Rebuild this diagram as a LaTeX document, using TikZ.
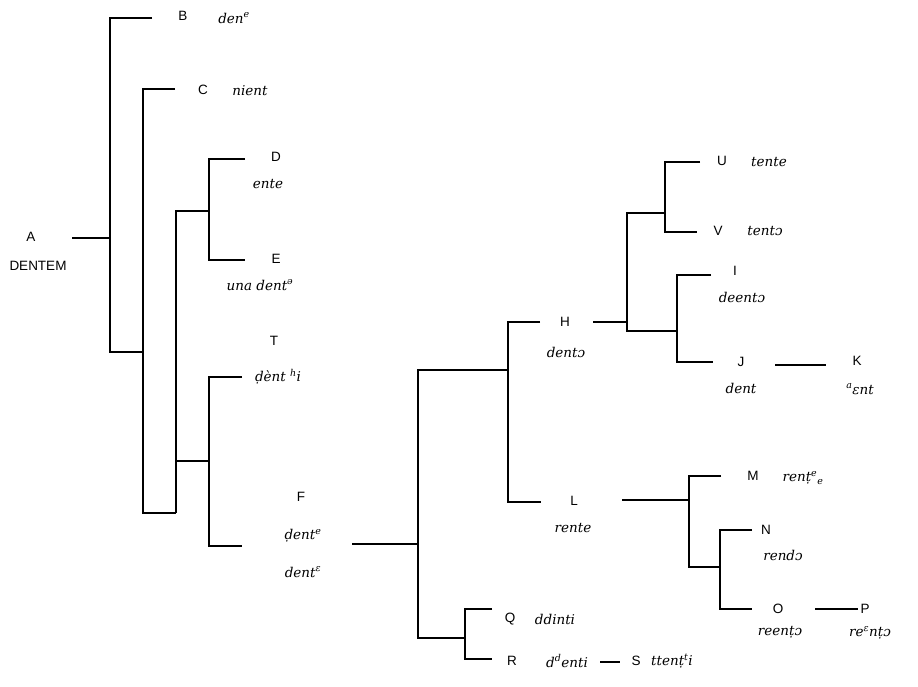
\documentclass[tikz,border=0pt]{standalone}
\usepackage{fontspec}
\setmainfont{Liberation Sans}
\newfontfamily\phon{DejaVu Serif}
\begin{document}
\begin{tikzpicture}[x=1pt,y=-1pt,
  lab/.style={font=\fontsize{13.5}{15}\selectfont, inner sep=0pt},
  ph/.style={font=\phon\itshape\fontsize{13.5}{15}\selectfont, inner sep=0pt},
  br/.style={line width=1.1pt}]
\useasboundingbox (0,0) rectangle (918,686);
% labels
\node[lab] (A) at (31,237) {A};
\node[lab] (Ad) at (38,266) {DENTEM};
\node[lab] (B) at (183,16) {B};
\node[ph] (Bp) at (234,18) {den\textsuperscript{e}};
\node[lab] (C) at (203,90) {C};
\node[ph] (Cp) at (250,91) {nient};
\node[lab] (D) at (276,157) {D};
\node[ph] (Dp) at (268,184) {ente};
\node[lab] (E) at (276,259) {E};
\node[ph] (Ep) at (260,285) {una dent\textsuperscript{ə}};
\node[lab] (T) at (274,341) {T};
\node[ph] (Tp) at (278,377) {ḍènt \textsuperscript{h}i};
\node[lab] (F) at (301,497) {F};
\node[ph] (Fp1) at (303,536) {ḍent\textsuperscript{e}};
\node[ph] (Fp2) at (303,572) {dent\textsuperscript{ɛ}};
\node[lab] (H) at (565,322) {H};
\node[ph] (Hp) at (566,352) {dentɔ};
\node[lab] (U) at (722,161) {U};
\node[ph] (Up) at (769,162) {tente};
\node[lab] (V) at (718,231) {V};
\node[ph] (Vp) at (765,231) {tentɔ};
\node[lab] (I) at (735,271) {I};
\node[ph] (Ip) at (742,297) {deentɔ};
\node[lab] (J) at (741,362) {J};
\node[ph] (Jp) at (741,388) {dent};
\node[lab] (K) at (857,361) {K};
\node[ph] (Kp) at (860,389) {\textsuperscript{a}ɛnt};
\node[lab] (L) at (574,501) {L};
\node[ph] (Lp) at (573,528) {rente};
\node[lab] (M) at (753,476) {M};
\node[ph] (Mp) at (803,478) {renṭ\textsuperscript{e}\textsubscript{e}};
\node[lab] (N) at (766,530) {N};
\node[ph] (Np) at (783,555) {rendɔ};
\node[lab] (O) at (778,609) {O};
\node[ph] (Op) at (780,632) {reenṭɔ};
\node[lab] (P) at (865,609) {P};
\node[ph] (Pp) at (870,633) {re\textsuperscript{ɛ}nṭɔ};
\node[lab] (Q) at (510,619) {Q};
\node[ph] (Qp) at (555,619) {ddinti};
\node[lab] (R) at (512,661) {R};
\node[ph] (Rp) at (567,661) {d\textsuperscript{d}enti};
\node[lab] (S) at (636,661) {S};
\node[ph] (Sp) at (672,661) {ttenṭ\textsuperscript{t}i};
% junction coordinates
\coordinate (a0) at (72,238); \coordinate (a1) at (110,238);
\coordinate (b0) at (110,18); \coordinate (b1) at (152,18);
\coordinate (c0) at (110,352); \coordinate (c1) at (143,352);
\coordinate (c2) at (143,89); \coordinate (c3) at (175,89);
\coordinate (d0) at (143,513); \coordinate (d1) at (176,513);
\coordinate (d2) at (176,211); \coordinate (d3) at (209,211);
\coordinate (e0) at (209,159); \coordinate (e1) at (245,159);
\coordinate (e2) at (209,260); \coordinate (e3) at (245,260);
\coordinate (t0) at (209,377); \coordinate (t1) at (242,377);
\coordinate (f0) at (209,546); \coordinate (f1) at (242,546);
\coordinate (g0) at (176,461); \coordinate (g1) at (209,461);
\coordinate (h0) at (352,544); \coordinate (h1) at (418,544);
\coordinate (h2) at (418,370); \coordinate (h3) at (508,370);
\coordinate (h4) at (418,638); \coordinate (h5) at (465,638);
\coordinate (i0) at (508,322); \coordinate (i1) at (540,322);
\coordinate (i2) at (508,502); \coordinate (i3) at (541,502);
\coordinate (q0) at (465,609); \coordinate (q1) at (492,609);
\coordinate (r0) at (465,659); \coordinate (r1) at (492,659);
\coordinate (s0) at (600,662); \coordinate (s1) at (620,662);
\coordinate (k0) at (593,322); \coordinate (k1) at (627,322);
\coordinate (k2) at (627,213); \coordinate (k3) at (665,213);
\coordinate (k4) at (627,331); \coordinate (k5) at (677,331);
\coordinate (u0) at (665,162); \coordinate (u1) at (700,162);
\coordinate (v0) at (665,232); \coordinate (v1) at (697,232);
\coordinate (w0) at (677,275); \coordinate (w1) at (711,275);
\coordinate (x0) at (677,362); \coordinate (x1) at (713,362);
\coordinate (y0) at (775,365); \coordinate (y1) at (826,365);
\coordinate (l0) at (622,500); \coordinate (l1) at (689,500);
\coordinate (m0) at (689,476); \coordinate (m1) at (721,476);
\coordinate (m2) at (689,567); \coordinate (m3) at (720,567);
\coordinate (n0) at (720,530); \coordinate (n1) at (752,530);
\coordinate (o0) at (720,609); \coordinate (o1) at (752,609);
\coordinate (p0) at (815,609); \coordinate (p1) at (858,609);
% brackets
\draw[br] (a0) -- (a1);
\draw[br] (b1) -- (b0) -- (c0) -- (c1);
\draw[br] (c3) -- (c2) -- (d0) -- (d1);
\draw[br] (d3) -- (d2) -- (d1);
\draw[br] (g0) -- (g1);
\draw[br] (e1) -- (e0) -- (e2) -- (e3);
\draw[br] (t1) -- (t0) -- (f0) -- (f1);
\draw[br] (h0) -- (h1);
\draw[br] (h3) -- (h2) -- (h4) -- (h5);
\draw[br] (i1) -- (i0) -- (i2) -- (i3);
\draw[br] (q1) -- (q0) -- (r0) -- (r1);
\draw[br] (s0) -- (s1);
\draw[br] (k0) -- (k1);
\draw[br] (k3) -- (k2) -- (k4) -- (k5);
\draw[br] (u1) -- (u0) -- (v0) -- (v1);
\draw[br] (w1) -- (w0) -- (x0) -- (x1);
\draw[br] (y0) -- (y1);
\draw[br] (l0) -- (l1);
\draw[br] (m1) -- (m0) -- (m2) -- (m3);
\draw[br] (n1) -- (n0) -- (o0) -- (o1);
\draw[br] (p0) -- (p1);
\end{tikzpicture}
\end{document}
